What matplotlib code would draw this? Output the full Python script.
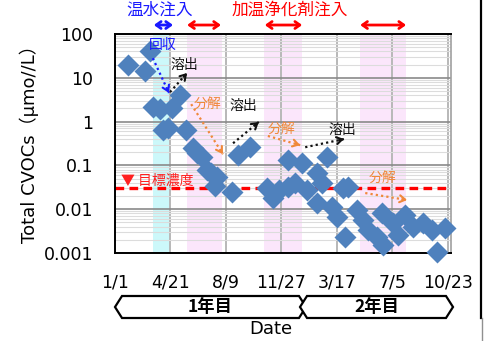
import matplotlib
matplotlib.use("Agg")
import matplotlib.pyplot as plt
from matplotlib.patches import Polygon
from matplotlib.lines import Line2D
import numpy as np

plt.rcParams['font.family'] = ['DejaVu Sans', 'Noto Sans CJK JP']
CJK = ['Noto Sans CJK JP', 'DejaVu Sans']

# x axis: days elapsed since 1/1 of the first year
tick_days = [0, 110, 220, 330, 440, 550, 660]
tick_labels = ['1/1', '4/21', '8/9', '11/27', '3/17', '7/5', '10/23']
y_ticks = [0.001, 0.01, 0.1, 1, 10, 100]
y_tick_labels = ['0.001', '0.01', '0.1', '1', '10', '100']

# measured Total CVOCs
days = [26, 59, 69, 75, 89, 113, 129, 95, 105, 141, 155, 163, 172, 182, 190,
        202, 198, 232, 244, 268, 301, 313, 325, 343, 343, 371, 357, 381, 400,
        420, 410, 400, 430, 440, 456, 452, 462, 480, 492, 502, 519, 529, 531,
        551, 561, 575, 591, 610, 628, 638, 654]
cvocs = [20, 14.3, 41, 2.15, 1.94, 2.0, 4.05, 0.64, 0.71, 0.64, 0.25, 0.19,
         0.155, 0.079, 0.067, 0.054, 0.034, 0.0247, 0.173, 0.263, 0.0305,
         0.018, 0.0274, 0.032, 0.133, 0.114, 0.040, 0.0274, 0.067, 0.155,
         0.040, 0.0139, 0.0112, 0.0066, 0.0023, 0.0305, 0.032, 0.0096, 0.0057,
         0.0034, 0.0023, 0.0082, 0.0015, 0.0048, 0.0026, 0.0074, 0.0039,
         0.0048, 0.0034, 0.00105, 0.0037]

target = 0.03
hot_water_period = (75, 109)
heating_periods = [(143, 212), (295, 371), (486, 577)]

W, H = 492, 341
fig = plt.figure(figsize=(W / 100, H / 100), dpi=100)
fig.patch.set_facecolor('white')


def fpx(x, y):
    return (x / W, 1 - y / H)


ax = fig.add_axes([115 / W, 1 - 253 / H, (451 - 115) / W, (253 - 34) / H])
ax.set_yscale('log')
ax.set_xlim(0, 666)
ax.set_ylim(0.001, 100)

# treatment periods
ax.axvspan(*hot_water_period, color='#ccf8fa', lw=0, zorder=0.1)
for a, b in heating_periods:
    ax.axvspan(a, b, color='#fbe6fb', lw=0, zorder=0.1)

ax.set_axisbelow(True)
ax.set_xticks(tick_days)
ax.set_xticklabels(tick_labels)
ax.set_yticks(y_ticks)
ax.set_yticklabels(y_tick_labels)
ax.tick_params(axis='both', which='both', length=0, labelsize=12.5)
ax.tick_params(axis='y', pad=15.5)
ax.tick_params(axis='x', pad=15)
ax.grid(True, axis='y', which='major', color='#8a8a8a', lw=1.2)
ax.grid(True, axis='y', which='minor', color='#dcdcdc', lw=0.8)
ax.grid(True, axis='x', which='major', color='#b8b8b8', lw=1.4)
for s in ['left', 'top', 'bottom']:
    ax.spines[s].set_color('black')
    ax.spines[s].set_linewidth(1.4)
ax.spines['right'].set_color('#a0a0a0')
ax.spines['right'].set_linewidth(1.2)

# target concentration
ax.axhline(target, color='#ff0000', lw=2.4, ls=(0, (2.6, 1.6)), zorder=2,
           clip_on=False)
ax.text(12, 0.044, '▼ 目標濃度', color='#ff2020', fontsize=10, family=CJK,
        ha='left', va='center', zorder=4)

ax.plot(days, cvocs, 'D', ms=11.5, color='#4f81bd', mec='none', zorder=3,
        clip_on=False)


def dotted_arrow(p0, p1, color):
    ax.annotate('', xy=p1, xytext=p0,
                arrowprops=dict(arrowstyle='-', ls=(0, (1.0, 1.4)), lw=1.6,
                                color=color, shrinkA=0, shrinkB=0,
                                capstyle='butt'), zorder=4)
    d0 = ax.transData.transform(p0)
    d1 = ax.transData.transform(p1)
    v = (d1 - d0) / np.hypot(*(d1 - d0))
    ax.annotate('', xy=p1, xytext=(-v[0] * 5, -v[1] * 5),
                textcoords='offset pixels',
                arrowprops=dict(arrowstyle='->,head_length=0.4,head_width=0.25',
                                lw=1.5, color=color, shrinkA=0, shrinkB=0),
                zorder=4)


blue, black, orange = '#1a1aff', '#111111', '#f0883a'
ax.text(95, 56, '回収', color=blue, fontsize=10, family=CJK, ha='center', va='center', zorder=5)
dotted_arrow((75, 28), (107, 4.5), blue)
ax.text(138, 19.6, '溶出', color=black, fontsize=10, family=CJK, ha='center', va='center', zorder=5)
dotted_arrow((109, 4.7), (143, 12.9), black)
ax.text(184, 2.5, '分解', color=orange, fontsize=10, family=CJK, ha='center', va='center', zorder=5)
dotted_arrow((151, 2.5), (214, 0.18), orange)
ax.text(254, 2.27, '溶出', color=black, fontsize=10, family=CJK, ha='center', va='center', zorder=5)
dotted_arrow((234, 0.32), (285, 0.98), black)
ax.text(331, 0.68, '分解', color=orange, fontsize=10, family=CJK, ha='center', va='center', zorder=5)
dotted_arrow((303, 0.47), (367, 0.29), orange)
ax.text(450, 0.64, '溶出', color=black, fontsize=10, family=CJK, ha='center', va='center', zorder=5)
dotted_arrow((377, 0.26), (454, 0.40), black)
ax.text(531, 0.0515, '分解', color=orange, fontsize=10, family=CJK, ha='center', va='center', zorder=5)
dotted_arrow((496, 0.0234), (579, 0.0162), orange)

# treatment period arrows above the plot
arrow_y = 1.041


def span_arrow(a, b, color):
    ax.annotate('', xy=(b, arrow_y), xytext=(a, arrow_y),
                xycoords=('data', 'axes fraction'),
                textcoords=('data', 'axes fraction'),
                arrowprops=dict(arrowstyle='<->,head_length=0.35,head_width=0.25',
                                lw=2, color=color, shrinkA=0, shrinkB=0),
                annotation_clip=False)


span_arrow(77, 115, '#1a1aff')
for a, b in [(143, 210), (297, 371), (486, 577)]:
    span_arrow(a, b, '#ff0000')
ax.text(89, 1.11, '温水注入', color='#1a1aff', fontsize=12, family=CJK,
        ha='center', va='center', transform=ax.get_xaxis_transform())
ax.text(347, 1.11, '加温浄化剤注入', color='#ff0000', fontsize=12, family=CJK,
        ha='center', va='center', transform=ax.get_xaxis_transform())

# axis titles
fig.text(*fpx(29, 140), 'Total CVOCs（μmo//L）', rotation=90, fontsize=13,
         ha='center', va='center')
fig.text(*fpx(271, 329), 'Date', fontsize=13, ha='center', va='center')

# year brackets below the axis
def year_box(x0, x1, label):
    yt, ym, yb = 296, 307, 318
    pts = [fpx(x0, ym), fpx(x0 + 7, yt), fpx(x1 - 7, yt), fpx(x1, ym),
           fpx(x1 - 7, yb), fpx(x0 + 7, yb)]
    fig.add_artist(Polygon(pts, closed=True, fc='white', ec='black', lw=1.6,
                           transform=fig.transFigure))
    fig.text(*fpx((x0 + x1) / 2, ym), label, fontsize=12.5, fontweight='bold',
             family=CJK, ha='center', va='center')


year_box(115, 306, '1年目')
year_box(300, 453, '2年目')

fig.add_artist(Line2D([481 / W, 481 / W], [1, 1 - 318 / H], color='black',
                      lw=1.6, transform=fig.transFigure))
fig.add_artist(Line2D([482 / W, 482 / W], [1 - 318 / H, 0], color='#909090',
                      lw=1.0, transform=fig.transFigure))

fig.savefig('out.png', dpi=100)
